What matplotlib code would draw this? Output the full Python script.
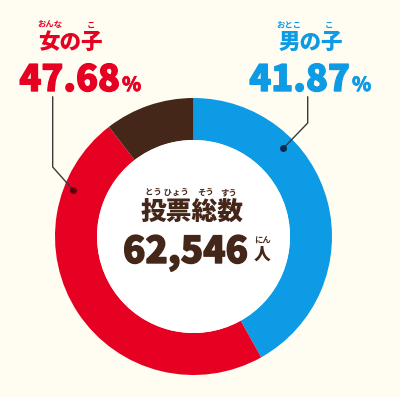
import matplotlib
matplotlib.use("Agg")
import matplotlib.pyplot as plt
from matplotlib.patches import Circle
import matplotlib.patheffects as pe

plt.rcParams['font.family'] = ['Noto Sans CJK JP', 'DejaVu Sans']

# Data
labels = ["男の子", "女の子", "その他"]
shares = [41.87, 47.68, 10.45]
colors = ["#0e9be6", "#e60022", "#45271a"]
total_votes = "62,546"

W, H = 400, 397
BG = "#fffdf2"
fig = plt.figure(figsize=(W / 100, H / 100), dpi=100, facecolor=BG)
ax = fig.add_axes([0, 0, 1, 1])
ax.set_facecolor(BG)

def Y(y):
    return H - y

cx, cy = 193.5, 236.5
R_out, R_in = 138.5, 96.5

ax.pie(shares, colors=colors, startangle=90, counterclock=False,
       center=(cx, Y(cy)), radius=R_out,
       wedgeprops=dict(width=R_out - R_in, linewidth=0))
ax.add_patch(Circle((cx, Y(cy)), R_in, facecolor="white", edgecolor="none", zorder=3))

ax.set_xlim(0, W)
ax.set_ylim(0, H)
ax.set_aspect('equal')
ax.axis('off')

red, blue, brown = "#e60022", "#0e9be6", "#45271a"
lc = "#3a3a3a"

# Leader lines
ax.plot([52.7, 52.7, 72.7], [Y(97), Y(167), Y(189.5)], color=lc, lw=1.0, zorder=5)
ax.plot([72.7], [Y(189.5)], 'o', color="#5a0010", ms=4, zorder=6)
ax.plot([307.7, 307.7, 283.3], [Y(97), Y(123), Y(148.3)], color=lc, lw=1.0, zorder=5)
ax.plot([283.3], [Y(148.3)], 'o', color="#0a2a50", ms=4, zorder=6)

fw = 'heavy'

def bold(c, w=1.0):
    return [pe.withStroke(linewidth=w, foreground=c)]

# Left label
ax.text(70.5, Y(42), labels[1], color=red, fontsize=15.5, fontweight=fw, ha='center', va='center')
ax.text(50, Y(25), "おんな", color=red, fontsize=6, fontweight='bold', ha='center', va='center')
ax.text(91, Y(25), "こ", color=red, fontsize=6, fontweight='bold', ha='center', va='center')
ax.text(120, Y(91), f"{shares[1]:.2f}", color=red, fontsize=26, fontweight=fw, ha='right', va='baseline', path_effects=bold(red))
ax.text(122, Y(91), "%", color=red, fontsize=14, fontweight=fw, ha='left', va='baseline', path_effects=bold(red, 0.5))

# Right label
ax.text(310.5, Y(42), labels[0], color=blue, fontsize=15.5, fontweight=fw, ha='center', va='center')
ax.text(289, Y(25), "おとこ", color=blue, fontsize=6, fontweight='bold', ha='center', va='center')
ax.text(329, Y(25), "こ", color=blue, fontsize=6, fontweight='bold', ha='center', va='center')
ax.text(350, Y(91), f"{shares[0]:.2f}", color=blue, fontsize=26, fontweight=fw, ha='right', va='baseline', path_effects=bold(blue))
ax.text(352, Y(91), "%", color=blue, fontsize=14, fontweight=fw, ha='left', va='baseline', path_effects=bold(blue, 0.5))

# Center
ax.text(192.5, Y(212.5), "投票総数", color=brown, fontsize=18.5, fontweight=fw, ha='center', va='center', zorder=7)
ax.text(166.5, Y(193), "とう ひょう", color=brown, fontsize=6, fontweight='bold', ha='center', va='center', zorder=7)
ax.text(205.5, Y(193), "そう", color=brown, fontsize=6, fontweight='bold', ha='center', va='center', zorder=7)
ax.text(229, Y(193), "すう", color=brown, fontsize=6, fontweight='bold', ha='center', va='center', zorder=7)
ax.text(248, Y(263), total_votes, color=brown, fontsize=26.5, fontweight=fw, ha='right', va='baseline', zorder=7, path_effects=bold(brown))
ax.text(262.5, Y(255), "人", color=brown, fontsize=12, fontweight=fw, ha='center', va='center', zorder=7)
ax.text(262.5, Y(241), "にん", color=brown, fontsize=6, fontweight='bold', ha='center', va='center', zorder=7)

fig.savefig("out.png", dpi=100, facecolor=BG)
